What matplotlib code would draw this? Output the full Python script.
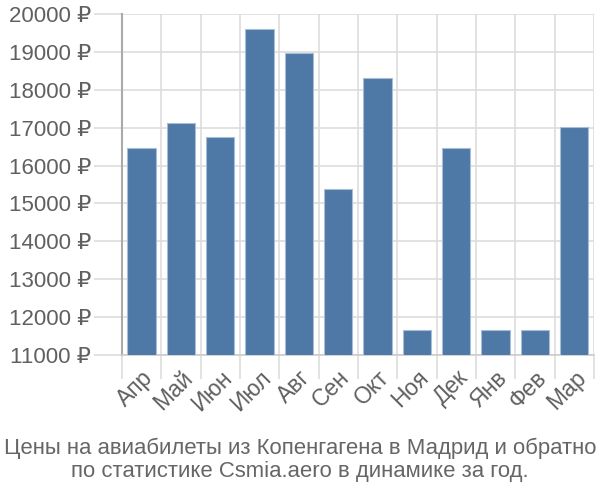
import numpy as np
import matplotlib.pyplot as plt

months = ['Апр', 'Май', 'Июн', 'Июл', 'Авг', 'Сен', 'Окт', 'Ноя', 'Дек', 'Янв', 'Фев', 'Мар']
prices = [16470, 17120, 16750, 19600, 18970, 15370, 18320, 11670, 16470, 11670, 11670, 17030]
yticks = [11000, 12000, 13000, 14000, 15000, 16000, 17000, 18000, 19000, 20000]

plt.rcParams['font.family'] = ['Liberation Sans', 'DejaVu Sans']

fig = plt.figure(figsize=(6, 5), dpi=100)
ax = fig.add_axes([0.203, 0.29, 0.787, 0.682])

x = np.arange(len(months))
ax.bar(x, prices, width=0.72, bottom=0, color='#4e78a6', edgecolor='#a9bdd6',
       linewidth=0.8, zorder=3)

ax.set_xlim(-0.5, len(months) - 0.5)
ax.set_ylim(11000, 20000)

ax.set_yticks(yticks)
ax.set_yticklabels([f'{v} ₽' for v in yticks])
ax.set_xticks(x)
ax.set_xticklabels(months, rotation=45, ha='right', rotation_mode='anchor')
ax.set_xticks(np.arange(-0.5, len(months)), minor=True)

ax.tick_params(axis='y', length=20, color='#dddddd', width=1.2, labelsize=16,
               labelcolor='#606060', pad=2)
ax.tick_params(axis='x', which='major', length=0, labelsize=16.5,
               labelcolor='#606060', pad=8)
ax.tick_params(axis='x', which='minor', length=17, color='#dddddd', width=1.2)

ax.grid(True, axis='y', color='#dddddd', linewidth=1.2, zorder=0)
ax.grid(True, axis='x', which='minor', color='#dddddd', linewidth=1.2, zorder=0)

for s in ['top', 'right']:
    ax.spines[s].set_visible(False)
ax.spines['left'].set_color('#aaaaaa')
ax.spines['left'].set_linewidth(1.5)
ax.spines['bottom'].set_color('#cccccc')
ax.spines['bottom'].set_linewidth(1.2)

fig.text(0.5, 0.08, 'Цены на авиабилеты из Копенгагена в Мадрид и обратно\n'
         'по статистике Csmia.aero в динамике за год.',
         ha='center', va='center', fontsize=15.9, color='#666666', linespacing=1.12)

fig.savefig('out.png', dpi=100)
